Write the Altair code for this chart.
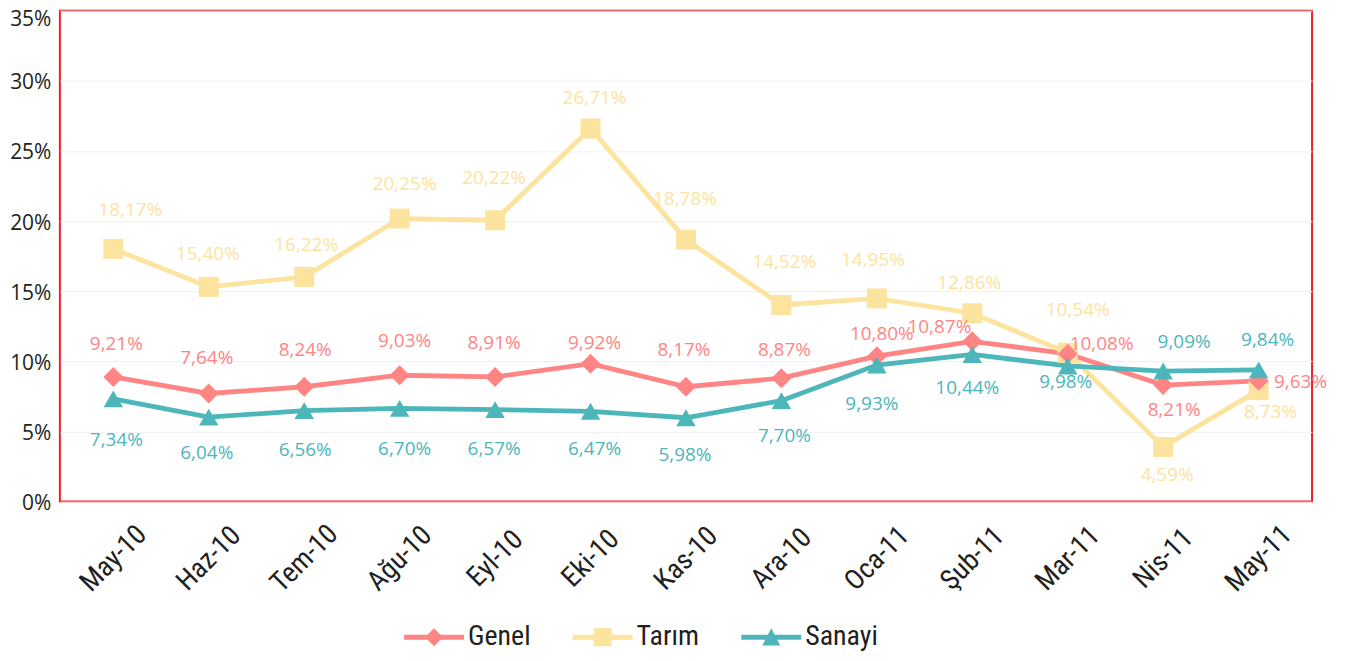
import altair as alt
import pandas as pd

months = ["May-10", "Haz-10", "Tem-10", "Ağu-10", "Eyl-10", "Eki-10", "Kas-10",
          "Ara-10", "Oca-11", "Şub-11", "Mar-11", "Nis-11", "May-11"]
series = ["Genel", "Tarım", "Sanayi"]

# plotted positions
genel = [8.89, 7.71, 8.19, 9.01, 8.89, 9.83, 8.19, 8.80, 10.37, 11.43, 10.54, 8.31, 8.61]
tarim = [18.02, 15.31, 16.02, 20.18, 20.06, 26.60, 18.68, 14.02, 14.49, 13.43, 10.61, 3.90, 7.95]
sanayi = [7.32, 6.02, 6.49, 6.65, 6.56, 6.44, 5.98, 7.20, 9.74, 10.49, 9.67, 9.31, 9.39]

# printed data labels
genel_labels = ["9,21%", "7,64%", "8,24%", "9,03%", "8,91%", "9,92%", "8,17%",
                "8,87%", "10,80%", "10,87%", "10,08%", "8,21%", "9,63%"]
tarim_labels = ["18,17%", "15,40%", "16,22%", "20,25%", "20,22%", "26,71%", "18,78%",
                "14,52%", "14,95%", "12,86%", "10,54%", "4,59%", "8,73%"]
sanayi_labels = ["7,34%", "6,04%", "6,56%", "6,70%", "6,57%", "6,47%", "5,98%",
                 "7,70%", "9,93%", "10,44%", "9,98%", "9,09%", "9,84%"]

y_ticks = [0, 5, 10, 15, 20, 25, 30, 35]

# styles
colors = {"Genel": "#FF8585", "Tarım": "#FCE39E", "Sanayi": "#4DB6BB"}
shapes = {"Genel": "diamond", "Tarım": "square", "Sanayi": "triangle-up"}
sizes = {"Genel": 400, "Tarım": 400, "Sanayi": 380}
legend_paths = [
    "M-1,-0.085L1,-0.085L1,0.085L-1,0.085Z M0,-0.3L0.3,0L0,0.3L-0.3,0Z",
    "M-1,-0.085L1,-0.085L1,0.085L-1,0.085Z M-0.3,-0.3L0.3,-0.3L0.3,0.3L-0.3,0.3Z",
    "M-1,-0.085L1,-0.085L1,0.085L-1,0.085Z M0,-0.3L0.3,0.27L-0.3,0.27Z",
]
label_offsets = {
    "Genel": [(3, -33), (-2, -36), (1, -37), (5, -34), (-1, -34), (4, -21), (-2, -37),
              (3, -28), (5, -22), (-33, -14), (34, -10), (11, 25), (42, 1)],
    "Tarım": [(17, -39), (-1, -33), (2, -32), (5, -35), (-1, -42), (4, -31), (-1, -41),
              (3, -43), (-4, -38), (-3, -30), (10, -43), (4, 28), (12, 22)],
    "Sanayi": [(3, 41), (-2, 36), (1, 40), (5, 41), (-1, 39), (4, 38), (-1, 37),
               (3, 35), (-5, 39), (-5, 34), (-2, 16), (21, -29), (9, -30)],
}

rows = []
for s, vals, labs in [("Genel", genel, genel_labels), ("Tarım", tarim, tarim_labels),
                      ("Sanayi", sanayi, sanayi_labels)]:
    for m, v, l in zip(months, vals, labs):
        rows.append({"month": m, "series": s, "value": v, "label": l})
df = pd.DataFrame(rows)

narrow = "Roboto Condensed, DejaVu Sans Condensed, sans-serif"
txt_color = "#231F20"

x_enc = alt.X("month:N", sort=months,
              scale=alt.Scale(type="point", padding=0.56),
              axis=alt.Axis(title=None, labelAngle=-45, labelAlign="center",
                            labelBaseline="middle", labelPadding=57, ticks=False,
                            domain=False, grid=False, labelFont=narrow,
                            labelFontSize=28, labelFontWeight="normal",
                            labelColor=txt_color))
y_enc = alt.Y("value:Q", scale=alt.Scale(domain=[0, 35], nice=False),
              axis=alt.Axis(title=None, values=y_ticks, labelExpr="datum.value + '%'",
                            ticks=False, domain=False, grid=True, gridColor="#F0F0F3",
                            gridWidth=1, labelFont="Open Sans", labelFontSize=21,
                            labelColor=txt_color, labelPadding=9,
                            labelOffset={"condition": {"test": "datum.value == 35", "value": 9},
                                         "value": 2},
                            labelBaseline="middle"))

base = alt.Chart(df)
layers = []
for s in series:
    layers.append(base.transform_filter(alt.datum.series == s)
                  .mark_line(color=colors[s], strokeWidth=4.8)
                  .encode(x=x_enc, y=y_enc))
for s in ["Tarım", "Genel", "Sanayi"]:
    layers.append(base.transform_filter(alt.datum.series == s)
                  .mark_point(shape=shapes[s], filled=True, size=sizes[s],
                              color=colors[s], opacity=1)
                  .encode(x=x_enc, y=y_enc))
for s in series:
    for m, (dx, dy) in zip(months, label_offsets[s]):
        layers.append(base.transform_filter((alt.datum.series == s) & (alt.datum.month == m))
                      .mark_text(dx=dx, dy=dy, align="center", baseline="middle",
                                 font="Open Sans", fontSize=19, color=colors[s])
                      .encode(x=x_enc, y=y_enc, text="label:N"))

legend = alt.Legend(title=None, orient="none", legendX=345, legendY=598,
                    direction="horizontal", symbolSize=3600, symbolOpacity=1,
                    symbolStrokeWidth=0, labelFont=narrow, labelFontSize=28,
                    labelFontWeight="normal",
                    labelColor=txt_color, labelOffset=4, columnPadding=42,
                    padding=0, offset=0)
layers.append(base.mark_point(filled=True, opacity=0).encode(
    x=x_enc, y=y_enc,
    color=alt.Color("series:N", scale=alt.Scale(domain=series, range=[colors[s] for s in series]),
                    legend=legend, sort=series),
    shape=alt.Shape("series:N", scale=alt.Scale(domain=series, range=legend_paths),
                    legend=legend, sort=series),
))

chart = alt.layer(*layers).properties(
    width=1255, height=492,
    autosize=alt.AutoSizeParams(type="none"),
    padding={"left": 52, "top": 2, "right": 25, "bottom": 150},
).configure_view(stroke="#E8202A", strokeWidth=2)

chart.save("out.html", embed_options={"renderer": "svg", "actions": False})
